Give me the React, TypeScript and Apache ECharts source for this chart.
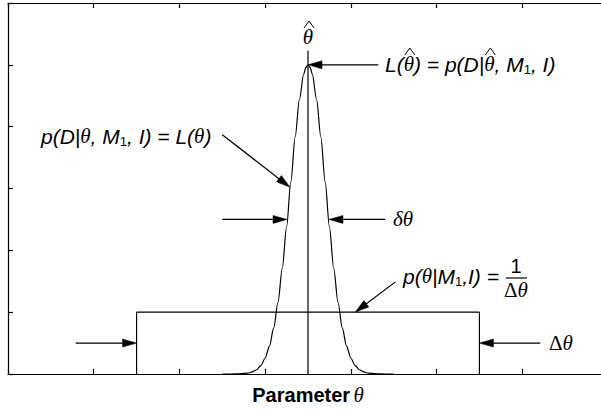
import React, { useEffect, useRef } from "react";
import * as echarts from "echarts";

// ---- data (axis units) ----
const xRange = [0, 7];
const yRange = [0, 6];
const curveX = [2.5, 2.6, 2.7, 2.8, 2.85, 2.9, 2.95, 3.0, 3.05, 3.1, 3.15, 3.2, 3.25, 3.3, 3.35, 3.4, 3.45, 3.475, 3.5,
  3.525, 3.55, 3.6, 3.65, 3.7, 3.75, 3.8, 3.85, 3.9, 3.95, 4.0, 4.05, 4.1, 4.15, 4.2, 4.3, 4.4, 4.5];
const curveY = [0, 0.0003, 0.0025, 0.015, 0.033, 0.069, 0.137, 0.255, 0.45, 0.745, 1.16, 1.71, 2.38, 3.11, 3.83, 4.44, 4.85, 4.96, 5.0,
  4.96, 4.85, 4.44, 3.83, 3.11, 2.38, 1.71, 1.16, 0.745, 0.45, 0.255, 0.137, 0.069, 0.033, 0.015, 0.0025, 0.0003, 0];
const boxX = [1.5, 1.5, 5.5, 5.5];
const boxY = [0, 1, 1, 0];
const peakX = [3.5, 3.5];
const peakY = [0, 5.23];
// annotation arrows: tail -> tip, in axis units
const arrowFrom = [[4.32, 5], [2.5, 3.87], [2.5, 2.5], [4.4, 2.5], [4.52, 1.49], [0.79, 0.5], [6.21, 0.5]];
const arrowTo = [[3.5, 5], [3.29, 3.02], [3.255, 2.5], [3.745, 2.5], [4.05, 1.0], [1.5, 0.5], [5.5, 0.5]];

const SANS = "'Liberation Sans', Arial, Helvetica, sans-serif";
const SERIF = "'Liberation Serif', 'Times New Roman', serif";
const FS = 21;

const styles: any = {
  i: { fontFamily: SANS, fontStyle: "italic", fontWeight: "normal", fontSize: FS, lineHeight: 24 },
  n: { fontFamily: SANS, fontStyle: "normal", fontWeight: "normal", fontSize: 20, lineHeight: 24 },
  t: { fontFamily: SERIF, fontStyle: "italic", fontWeight: "normal", fontSize: FS, lineHeight: 24 },
  u: { fontFamily: SERIF, fontStyle: "normal", fontWeight: "normal", fontSize: FS, lineHeight: 24 },
  s: { fontFamily: SANS, fontStyle: "normal", fontWeight: "normal", fontSize: 13, lineHeight: 12, verticalAlign: "bottom" },
  b: { fontFamily: SANS, fontStyle: "normal", fontWeight: "bold", fontSize: 20, lineHeight: 24 },
};
const rich: any = {};
Object.keys(styles).forEach((k) => {
  rich[k] = { ...styles[k], fill: "#000", color: "#000" };
});

let measureCtx: CanvasRenderingContext2D | null = null;
function measure(key: string, text: string) {
  if (!measureCtx) measureCtx = document.createElement("canvas").getContext("2d");
  const s = styles[key];
  measureCtx!.font = `${s.fontStyle} ${s.fontWeight} ${s.fontSize}px ${s.fontFamily}`;
  return measureCtx!.measureText(text).width;
}

// segments: [styleKey, text, hasHat?]
function label(segs: [string, string, boolean?][], x: number, y: number, align = "left") {
  const widths = segs.map(([k, t]) => measure(k, t));
  const total = widths.reduce((a, b) => a + b, 0);
  const x0 = align === "center" ? x - total / 2 : x;
  const out: any[] = [
    {
      type: "text", x: x0, y, silent: true,
      style: {
        text: segs.map(([k, t]) => `{${k}|${t}}`).join(""),
        rich, align: "left", verticalAlign: "middle", fill: "#000",
      },
    },
  ];
  let acc = x0;
  segs.forEach(([, , h], k) => {
    if (h) {
      const cx = acc + widths[k] / 2 + 1;
      out.push({
        type: "polyline", silent: true,
        shape: { points: [[cx - 5, y - 9], [cx, y - 16], [cx + 5, y - 9]] },
        style: { stroke: "#000", lineWidth: 1, fill: null },
      });
    }
    acc += widths[k];
  });
  return out;
}

const axisBase = {
  axisLine: { show: true, onZero: false, lineStyle: { color: "#000", width: 1.2 } },
  axisTick: { show: true, inside: true, length: 5, lineStyle: { color: "#000", width: 1.2 } },
  axisLabel: { show: false },
  splitLine: { show: false },
};

export default function App() {
  const ref = useRef<HTMLDivElement>(null);
  useEffect(() => {
    document.body.style.margin = "0";
    const chart = echarts.init(ref.current!, null, { renderer: "svg" });
    const lineStyle = { color: "#000", width: 1.2 };
    chart.setOption({
      animation: false,
      grid: { left: 8, top: 3, width: 600, height: 371, outerBoundsMode: "none", containLabel: false },
      xAxis: [
        {
          type: "value", min: xRange[0], max: xRange[1], interval: 1, position: "bottom", ...axisBase,
          name: "{b|Parameter} {t|θ}", nameLocation: "middle", nameGap: 9,
          nameTextStyle: { rich },
        },
        { type: "value", min: xRange[0], max: xRange[1], interval: 1, position: "top", ...axisBase },
      ],
      yAxis: [
        { type: "value", min: yRange[0], max: yRange[1], interval: 1, position: "left", ...axisBase },
        { type: "value", min: yRange[0], max: yRange[1], interval: 1, position: "right", ...axisBase },
      ],
      series: [
        {
          type: "line", data: curveX.map((x, k) => [x, curveY[k]]), showSymbol: false,
          smooth: 0.3, smoothMonotone: "x", lineStyle, silent: true,
        },
        { type: "line", data: boxX.map((x, k) => [x, boxY[k]]), showSymbol: false, lineStyle, silent: true },
        { type: "line", data: peakX.map((x, k) => [x, peakY[k]]), showSymbol: false, lineStyle, silent: true },
      ],
    });

    const graphics: any[] = [];
    arrowFrom.forEach((f, k) => {
      const a = chart.convertToPixel({ gridIndex: 0 }, f) as number[];
      const b = chart.convertToPixel({ gridIndex: 0 }, arrowTo[k]) as number[];
      const dx = b[0] - a[0];
      const dy = b[1] - a[1];
      const len = Math.hypot(dx, dy);
      const ux = dx / len;
      const uy = dy / len;
      const hl = 14;
      const hw = 4;
      const bx = b[0] - ux * hl;
      const by = b[1] - uy * hl;
      graphics.push({
        type: "line", silent: true,
        shape: { x1: a[0], y1: a[1], x2: bx + ux * 2, y2: by + uy * 2 },
        style: { stroke: "#000", lineWidth: 1.2 },
      });
      graphics.push({
        type: "polygon", silent: true,
        shape: { points: [[b[0], b[1]], [bx - uy * hw, by + ux * hw], [bx + uy * hw, by - ux * hw]] },
        style: { fill: "#000", stroke: "#000", lineWidth: 0.5 },
      });
    });

    graphics.push(...label([["i", "p(D|"], ["t", "θ"], ["i", ", M"], ["s", "1"], ["i", ", I) = L("], ["t", "θ"], ["i", ")"]], 41, 136));
    graphics.push(...label([["i", "L("], ["t", "θ", true], ["i", ") = p(D|"], ["t", "θ", true], ["i", ", M"], ["s", "1"], ["i", ", I)"]], 385, 64));
    graphics.push(...label([["t", "θ", true]], 308, 37, "center"));
    graphics.push(...label([["t", "δθ"]], 393, 219));
    graphics.push(...label([["i", "p("], ["t", "θ"], ["i", "|M"], ["s", "1"], ["i", ",I) ="]], 403, 276));
    graphics.push(...label([["n", "1"]], 516, 266, "center"));
    graphics.push({
      type: "line", silent: true,
      shape: { x1: 506, y1: 278, x2: 527, y2: 278 },
      style: { stroke: "#000", lineWidth: 1.2 },
    });
    graphics.push(...label([["u", "Δ"], ["t", "θ"]], 516, 290, "center"));
    graphics.push(...label([["u", "Δ"], ["t", "θ"]], 549, 343));

    chart.setOption({ graphic: graphics });
    return () => chart.dispose();
  }, []);
  return <div ref={ref} style={{ width: 601, height: 409, overflow: "hidden", background: "#fff" }} />;
}
